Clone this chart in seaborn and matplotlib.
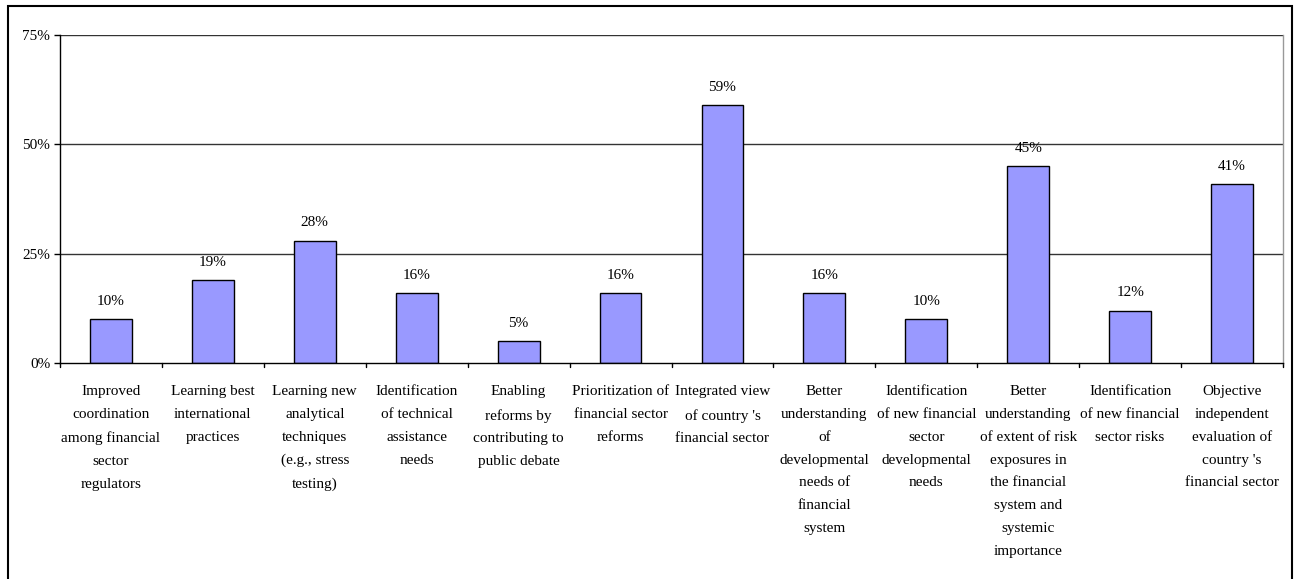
import matplotlib
matplotlib.use("Agg")
import matplotlib.pyplot as plt
import matplotlib.patches as mpatches
from matplotlib.ticker import FixedLocator, FuncFormatter
import seaborn as sns
import pandas as pd

categories = [
    "Improved\ncoordination\namong financial\nsector\nregulators",
    "Learning best\ninternational\npractices",
    "Learning new\nanalytical\ntechniques\n(e.g., stress\ntesting)",
    "Identification\nof technical\nassistance\nneeds",
    "Enabling\nreforms by\ncontributing to\npublic debate",
    "Prioritization of\nfinancial sector\nreforms",
    "Integrated view\nof country 's\nfinancial sector",
    "Better\nunderstanding\nof\ndevelopmental\nneeds of\nfinancial\nsystem",
    "Identification\nof new financial\nsector\ndevelopmental\nneeds",
    "Better\nunderstanding\nof extent of risk\nexposures in\nthe financial\nsystem and\nsystemic\nimportance",
    "Identification\nof new financial\nsector risks",
    "Objective\nindependent\nevaluation of\ncountry 's\nfinancial sector",
]
shares = [10, 19, 28, 16, 5, 16, 59, 16, 10, 45, 12, 41]
y_ticks = [0, 25, 50, 75]

sns.set_theme(style="white")
plt.rcParams["font.family"] = ["Liberation Serif", "DejaVu Serif"]
plt.rcParams["text.color"] = "black"
plt.rcParams["xtick.color"] = "black"
plt.rcParams["ytick.color"] = "black"

df = pd.DataFrame({"category": categories, "share": shares})

W, H = 1298, 579
fig = plt.figure(figsize=(W / 100, H / 100), dpi=100)
ax = fig.add_axes([60 / W, 1 - 363 / H, (1283 - 60) / W, (363 - 35) / H])

sns.barplot(data=df, x="category", y="share", ax=ax, color="#9999FF",
            edgecolor="black", linewidth=1.0, width=0.41, saturation=1)

ax.set_ylim(0, 75)
ax.set_xlim(-0.5, len(categories) - 0.5)
ax.yaxis.set_major_locator(FixedLocator(y_ticks))
ax.yaxis.set_major_formatter(FuncFormatter(lambda v, p: f"{v:.0f}%"))
for v in y_ticks[1:]:
    ax.axhline(v, color="#333333", linewidth=1.0, zorder=0)

ax.set_xlabel("")
ax.set_ylabel("")

# Category labels, ticks placed between categories
ax.set_xticks(range(len(categories)))
ax.set_xticklabels(categories, fontsize=11, linespacing=1.98, va="top",
                   color="black")
ax.tick_params(axis="x", length=0, pad=16)
for b in [i - 0.5 for i in range(len(categories) + 1)]:
    ax.plot([b, b], [0, -1.0], color="black", linewidth=1.0, clip_on=False)
ax.tick_params(axis="y", length=4, width=1.0, color="black", direction="out",
               labelsize=11, pad=3, left=True, labelcolor="black")

for s in ["left", "bottom"]:
    ax.spines[s].set_color("black")
    ax.spines[s].set_linewidth(1.0)
ax.spines["top"].set_visible(False)
ax.spines["right"].set_color("#999999")
ax.spines["right"].set_linewidth(1.0)

for bar, val in zip(ax.patches, shares):
    ax.annotate(f"{val}%", (bar.get_x() + bar.get_width() / 2, bar.get_height()),
                xytext=(0, 8), textcoords="offset points", ha="center",
                va="bottom", fontsize=11, color="black")

# Outer chart frame
fig.patches.append(mpatches.Rectangle((8 / W, -0.05), (1292 - 8) / W, 1.05 - 6 / H,
                                      transform=fig.transFigure, fill=False,
                                      edgecolor="black", linewidth=1.5))

fig.savefig("out.png", dpi=100)
